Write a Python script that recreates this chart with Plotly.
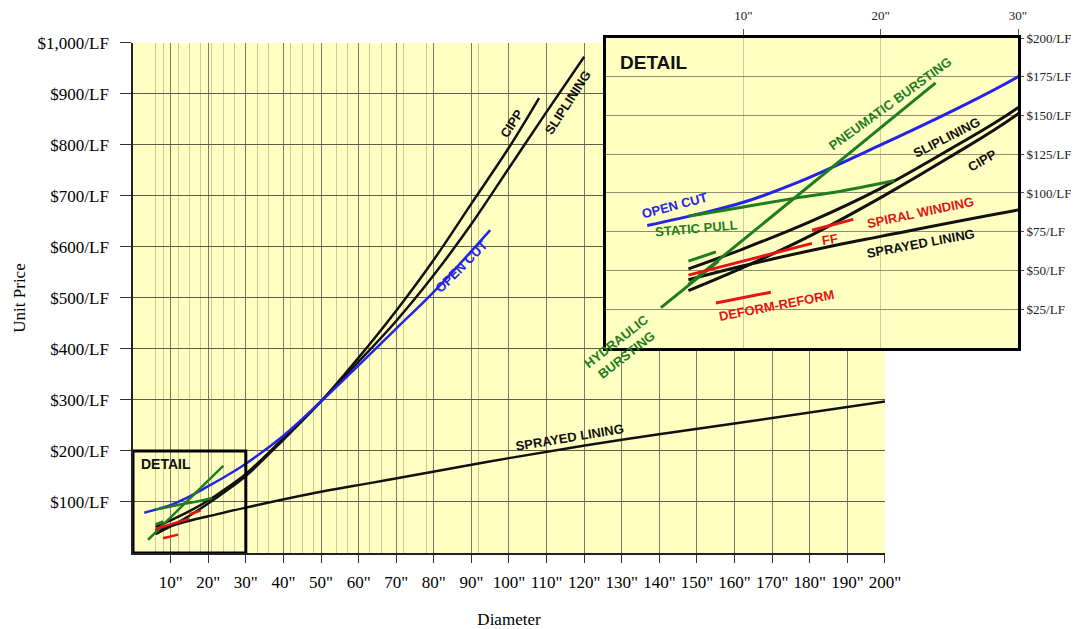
import plotly.graph_objects as go

# axis ticks
diam_ticks = list(range(10, 210, 10))
diam_labels = [f'{d}"' for d in diam_ticks]
price_ticks = list(range(100, 1100, 100))
price_labels = ["$100/LF", "$200/LF", "$300/LF", "$400/LF", "$500/LF",
                "$600/LF", "$700/LF", "$800/LF", "$900/LF", "$1,000/LF"]
pipe_sizes = [6, 8, 12, 15, 18, 21, 24, 27, 33, 36, 42, 45, 48, 54, 57, 63, 66, 72, 78, 92]

detail_diam_ticks = [10, 20, 30]
detail_diam_labels = ['10"', '20"', '30"']
detail_price_ticks = [25, 50, 75, 100, 125, 150, 175, 200]
detail_price_labels = ["$25/LF", "$50/LF", "$75/LF", "$100/LF",
                       "$125/LF", "$150/LF", "$175/LF", "$200/LF"]

# cost curves (diameter in inches, $/LF)
cipp_x = [6, 10, 15, 20, 25, 30, 40, 50, 60, 70, 80, 90, 100, 108]
cipp_y = [37, 52, 73, 97, 123, 151, 222, 297, 383, 475, 575, 685, 795, 892]

slip_x = [6, 10, 15, 20, 25, 30, 40, 50, 60, 70, 80, 90, 100, 110, 120]
slip_y = [51, 64, 82, 103, 128, 155, 225, 298, 375, 455, 545, 645, 755, 865, 973]

opencut_x = [3, 7, 10, 14, 20, 25, 30, 40, 50, 60, 70, 80, 95]
opencut_y = [79, 87, 94, 107, 131, 152, 175, 230, 297, 368, 440, 512, 633]

sprayed_x = [6, 10, 16.8, 20, 30, 50, 63, 75, 100, 130, 160, 200]
sprayed_y = [44, 53, 66.5, 72, 89, 120, 137, 153, 186, 222, 254, 297]

static_x = [6, 10, 14, 17, 21]
static_y = [85, 91, 97, 101, 108]

hydraulic_x = [4, 8.2]
hydraulic_y = [26, 56]

hydraulic_top_x = [6, 8]
hydraulic_top_y = [56, 62]

pneumatic_x = [6, 24]
pneumatic_y = [41, 171]

ff_x = [6, 15]
ff_y = [47, 67.5]

spiral_x = [15, 18]
spiral_y = [76, 83]

deform_x = [8, 12]
deform_y = [29, 36]

BLACK = "#111111"
BLUE = "#2424e6"
GREEN = "#1e7d1e"
RED = "#e61414"
YELLOW = "#ffffc2"

series = [
    (sprayed_x, sprayed_y, BLACK),
    (cipp_x, cipp_y, BLACK),
    (slip_x, slip_y, BLACK),
    (opencut_x, opencut_y, BLUE),
    (static_x, static_y, GREEN),
    (hydraulic_x, hydraulic_y, GREEN),
    (hydraulic_top_x, hydraulic_top_y, GREEN),
    (pneumatic_x, pneumatic_y, GREEN),
    (ff_x, ff_y, RED),
    (spiral_x, spiral_y, RED),
    (deform_x, deform_y, RED),
]

fig = go.Figure()
for xs, ys, col in series:
    fig.add_trace(go.Scatter(x=xs, y=ys, mode="lines", line=dict(color=col, width=2.5, shape="spline"),
                             xaxis="x", yaxis="y", showlegend=False, hoverinfo="skip"))
for xs, ys, col in series:
    fig.add_trace(go.Scatter(x=xs, y=ys, mode="lines", line=dict(color=col, width=3, shape="spline"),
                             xaxis="x2", yaxis="y2", showlegend=False, hoverinfo="skip"))

serif = "Liberation Serif"
sans = "Liberation Sans"

# page body adds an 8px offset, so the figure is 8px smaller than the window
fig.update_layout(
    width=1071, height=621,
    margin=dict(l=125, r=61, t=30, b=76),
    paper_bgcolor="white",
    plot_bgcolor=YELLOW,
    xaxis=dict(
        domain=[0, 0.8497], range=[0, 200], automargin=False,
        tickmode="array", tickvals=diam_ticks, ticktext=diam_labels,
        ticks="outside", ticklen=8, tickcolor="#333", ticklabelstandoff=5,
        tickfont=dict(family=serif, size=17, color="black"),
        showgrid=True, gridcolor="#7d7b66", gridwidth=1,
        minor=dict(tickmode="array", tickvals=pipe_sizes, showgrid=True,
                   gridcolor="#cfc999", gridwidth=1, ticks=""),
        showline=True, linecolor="#222", linewidth=1.5,
        zeroline=False,
        title=dict(text="Diameter", font=dict(family=serif, size=17, color="black"), standoff=24),
    ),
    yaxis=dict(
        domain=[0, 0.9903], range=[0, 1000], automargin=False,
        tickmode="array", tickvals=price_ticks, ticktext=price_labels,
        ticks="outside", ticklen=11, tickcolor="#333", ticklabelstandoff=8,
        tickfont=dict(family=serif, size=17, color="black"),
        showgrid=True, gridcolor="#5e5c4c", gridwidth=1,
        showline=True, linecolor="#222", linewidth=1.5,
        zeroline=False,
        title=dict(text="Unit Price", font=dict(family=serif, size=17, color="black"), standoff=8),
    ),
    xaxis2=dict(
        domain=[0.5345, 1], range=[0, 30], anchor="y2", side="top", automargin=False,
        tickmode="array", tickvals=detail_diam_ticks, ticktext=detail_diam_labels,
        ticks="outside", ticklen=6, tickcolor="#555", ticklabelstandoff=4,
        tickfont=dict(family=serif, size=13, color="#222"),
        showgrid=True, gridcolor="#cfc999", gridwidth=1,
        showline=True, mirror=True, linecolor="black", linewidth=3,
        zeroline=False,
    ),
    yaxis2=dict(
        domain=[0.3981, 1], range=[0, 200], anchor="x2", side="right", automargin=False,
        tickmode="array", tickvals=detail_price_ticks, ticktext=detail_price_labels,
        ticks="outside", ticklen=3, tickcolor="#555",
        tickfont=dict(family=serif, size=13, color="#222"),
        showgrid=True, gridcolor="#8e8c72", gridwidth=1,
        showline=True, mirror=True, linecolor="black", linewidth=3,
        zeroline=False,
    ),
)

# inset background hides the main grid underneath; small detail frame on main chart
fig.add_shape(type="rect", xref="x2", yref="y2", x0=0, x1=30, y0=0, y1=200,
              fillcolor=YELLOW, line=dict(width=0), layer="below")
fig.add_shape(type="rect", xref="x", yref="y", x0=0, x1=30, y0=0, y1=200,
              line=dict(color="black", width=3), layer="above")


def label(text, x, y, color, angle, size=13, ref="2"):
    fig.add_annotation(text=f"<b>{text}</b>", x=x, y=y, xref="x" + ref if ref else "x",
                       yref="y" + ref if ref else "y", showarrow=False, textangle=angle,
                       font=dict(family=sans, size=size, color=color))


# main chart labels
label("CIPP", 100.7, 843, BLACK, -57, 13, "")
label("SLIPLINING", 115.6, 884, BLACK, -57, 13, "")
label("OPEN CUT", 87.4, 561, BLUE, -45, 13, "")
label("SPRAYED LINING", 116, 227, BLACK, -9.5, 13, "")
label("DETAIL", 8.7, 174.5, BLACK, 0, 14, "")
label("HYDRAULIC<br>BURSTING", 130, 402, GREEN, -38, 13, "")

# detail labels
fig.add_annotation(text="<b>DETAIL</b>", x=0.9, y=184, xref="x2", yref="y2", xanchor="left",
                   showarrow=False, font=dict(family=sans, size=19, color=BLACK))
label("PNEUMATIC BURSTING", 20.7, 158, GREEN, -36)
label("SLIPLINING", 24.8, 136, BLACK, -27)
label("CIPP", 27.4, 121, BLACK, -30)
label("OPEN CUT", 5.0, 92, BLUE, -15)
label("STATIC PULL", 6.6, 77.4, GREEN, -5)
label("SPIRAL WINDING", 22.9, 87.7, RED, -12)
label("FF", 16.3, 69.7, RED, -10)
label("SPRAYED LINING", 22.9, 67.7, BLACK, -10.6)
label("DEFORM-REFORM", 12.4, 27.7, RED, -11)

fig.write_html("out.html")
